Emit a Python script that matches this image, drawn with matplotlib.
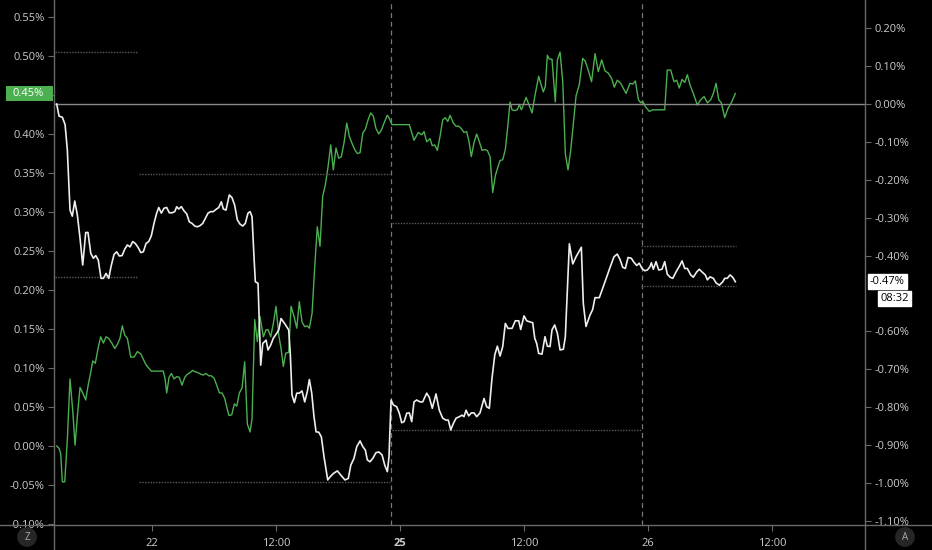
import matplotlib.pyplot as plt
from matplotlib.lines import Line2D
from matplotlib.patches import Rectangle
from matplotlib.transforms import blended_transform_factory, offset_copy

# time axis in hours (0 = the "22" tick), values in percent
white_h = [-9.23, -9.0, -8.68, -8.42, -8.2, -7.94, -7.72, -7.48, -7.23, -6.97, -6.71, -6.42, -6.2, -5.93,
           -5.68, -5.45, -5.2, -4.94, -4.71, -4.45, -4.19, -3.97, -3.68, -3.42, -3.17, -2.9, -2.64, -2.39,
           -2.13, -1.87, -1.62, -1.36, -1.09, -0.84, -0.58, -0.32, -0.07, 0.19, 0.45, 0.65, 0.9, 1.16, 1.42,
           1.67, 1.94, 2.2, 2.39, 2.58, 2.84, 3.1, 3.36, 3.61, 3.87, 4.13, 4.39, 4.65, 4.91, 5.16, 5.42,
           5.68, 5.93, 6.2, 6.46, 6.71, 6.9, 7.16, 7.48, 7.74, 8.0, 8.26, 8.52, 8.78, 9.03, 9.29, 9.49, 9.68,
           9.87, 10.0, 10.26, 10.52, 10.72, 11.04, 11.23, 11.49, 11.74, 12.07, 12.27, 12.49, 12.88, 13.23,
           13.39, 13.55, 13.78, 14.01, 14.26, 14.52, 14.78, 15.03, 15.23, 15.46, 15.68, 15.88, 16.14, 16.39,
           16.65, 17.01, 17.23, 17.55, 17.94, 18.27, 18.68, 19.0, 19.24, 19.55, 19.82, 20.14, 20.4, 20.65,
           20.84, 21.1, 21.37, 21.68, 21.95, 22.27, 22.53, 22.78, 22.94, 23.14, 23.36, 23.69, 23.94, 24.17,
           24.4, 24.66, 24.91, 25.14, 25.36, 25.62, 25.94, 26.2, 26.59, 26.84, 27.13, 27.49, 27.81, 28.14,
           28.46, 28.68, 28.92, 29.17, 29.43, 29.75, 30.01, 30.2, 30.4, 30.66, 30.91, 31.17, 31.43, 31.75,
           32.14, 32.4, 32.65, 32.91, 33.18, 33.43, 33.69, 33.95, 34.2, 34.46, 34.85, 35.17, 35.5, 35.69,
           36.01, 36.27, 36.59, 36.85, 37.05, 37.24, 37.43, 37.75, 38.04, 38.27, 38.53, 38.72, 38.98, 39.24,
           39.5, 39.82, 40.01, 40.4, 40.73, 41.05, 41.56, 41.75, 42.01, 42.4, 42.66, 42.88, 43.3, 43.63,
           44.02, 44.34, 44.72, 45.04, 45.3, 45.57, 45.82, 46.08, 46.4, 46.66, 46.92, 47.17, 47.43, 47.7,
           47.95, 48.21, 48.34, 48.53, 48.79, 49.05, 49.37, 49.63, 49.88, 50.15, 50.41, 50.73, 51.05, 51.31,
           51.57, 51.82, 52.15, 52.4, 52.73, 52.98, 53.24, 53.56, 53.76, 54.02, 54.34, 54.6, 54.92, 55.25,
           55.44, 55.69, 55.95, 56.21, 56.47]
white_pct = [0.0, -0.032, -0.035, -0.054, -0.121, -0.28, -0.296, -0.256, -0.293, -0.354, -0.425, -0.339,
             -0.339, -0.394, -0.407, -0.4, -0.412, -0.46, -0.46, -0.447, -0.46, -0.429, -0.397, -0.39,
             -0.401, -0.4, -0.383, -0.372, -0.377, -0.363, -0.368, -0.378, -0.392, -0.39, -0.368, -0.363,
             -0.348, -0.315, -0.288, -0.273, -0.288, -0.275, -0.273, -0.287, -0.287, -0.284, -0.271,
             -0.277, -0.271, -0.282, -0.29, -0.311, -0.315, -0.322, -0.324, -0.321, -0.315, -0.302,
             -0.288, -0.284, -0.284, -0.278, -0.273, -0.258, -0.277, -0.28, -0.24, -0.247, -0.267,
             -0.306, -0.317, -0.322, -0.315, -0.288, -0.284, -0.297, -0.403, -0.469, -0.473, -0.689,
             -0.632, -0.623, -0.649, -0.636, -0.618, -0.605, -0.596, -0.566, -0.581, -0.596, -0.662,
             -0.768, -0.788, -0.763, -0.763, -0.757, -0.786, -0.759, -0.727, -0.763, -0.825, -0.865,
             -0.866, -0.878, -0.931, -0.992, -0.984, -0.975, -0.968, -0.979, -0.992, -0.988, -0.953,
             -0.935, -0.904, -0.889, -0.904, -0.913, -0.939, -0.944, -0.935, -0.92, -0.918, -0.926,
             -0.953, -0.97, -0.931, -0.781, -0.794, -0.799, -0.816, -0.841, -0.838, -0.816, -0.815,
             -0.838, -0.786, -0.781, -0.786, -0.786, -0.763, -0.774, -0.803, -0.765, -0.808, -0.829,
             -0.834, -0.834, -0.86, -0.843, -0.829, -0.825, -0.821, -0.825, -0.808, -0.823, -0.815,
             -0.815, -0.825, -0.815, -0.777, -0.799, -0.803, -0.724, -0.662, -0.639, -0.665, -0.64,
             -0.579, -0.592, -0.592, -0.572, -0.572, -0.595, -0.559, -0.572, -0.575, -0.577, -0.618,
             -0.632, -0.658, -0.66, -0.614, -0.639, -0.64, -0.596, -0.583, -0.605, -0.649, -0.647,
             -0.614, -0.369, -0.422, -0.403, -0.378, -0.526, -0.587, -0.557, -0.542, -0.511, -0.511,
             -0.486, -0.456, -0.431, -0.403, -0.396, -0.41, -0.431, -0.434, -0.405, -0.407, -0.418,
             -0.426, -0.42, -0.434, -0.44, -0.438, -0.429, -0.419, -0.436, -0.416, -0.438, -0.436,
             -0.416, -0.449, -0.457, -0.46, -0.443, -0.428, -0.414, -0.434, -0.434, -0.451, -0.457,
             -0.443, -0.436, -0.443, -0.451, -0.464, -0.456, -0.46, -0.472, -0.478, -0.469, -0.46,
             -0.46, -0.451, -0.457, -0.469]

green_h = [-9.23, -9.0, -8.84, -8.68, -8.45, -8.2, -7.94, -7.68, -7.45, -7.23, -6.97, -6.71, -6.42, -6.17,
           -5.93, -5.74, -5.49, -5.23, -4.97, -4.71, -4.45, -4.19, -3.9, -3.61, -3.36, -3.1, -2.88, -2.64,
           -2.39, -2.06, -1.74, -1.42, -1.09, -0.84, -0.58, -0.32, -0.07, 1.09, 1.26, 1.42, 1.65, 1.87, 2.13,
           2.39, 2.64, 2.9, 3.17, 3.42, 3.68, 3.94, 4.19, 4.45, 4.71, 4.97, 5.23, 5.49, 5.74, 6.0, 6.26,
           6.52, 6.78, 7.04, 7.23, 7.45, 7.72, 7.97, 8.2, 8.45, 8.71, 8.97, 9.23, 9.49, 9.68, 9.94, 10.19,
           10.45, 10.78, 11.04, 11.23, 11.49, 11.74, 12.0, 12.27, 12.49, 12.71, 12.94, 13.23, 13.46, 13.75,
           14.01, 14.26, 14.52, 14.78, 15.03, 15.23, 15.49, 15.75, 16.0, 16.26, 16.52, 16.78, 17.04, 17.3,
           17.55, 17.81, 18.07, 18.33, 18.59, 18.85, 19.1, 19.36, 19.62, 19.87, 20.14, 20.4, 20.65, 20.91,
           21.17, 21.42, 21.68, 21.95, 22.2, 22.46, 22.78, 22.97, 23.23, 24.91, 25.36, 25.78, 26.11, 26.33,
           26.59, 26.91, 27.13, 27.36, 27.62, 27.88, 28.14, 28.39, 28.63, 28.85, 29.17, 29.43, 29.69, 29.94,
           30.2, 30.46, 30.69, 30.91, 31.17, 31.43, 31.69, 31.95, 32.21, 32.46, 32.72, 32.98, 33.24, 33.49,
           33.69, 33.95, 34.2, 34.4, 34.66, 34.85, 35.11, 35.36, 35.56, 35.75, 35.94, 36.21, 36.47, 36.79,
           37.05, 37.43, 37.69, 37.88, 38.07, 38.27, 38.46, 38.72, 39.04, 39.24, 39.5, 39.76, 40.01, 40.27,
           40.53, 40.79, 41.05, 41.36, 41.69, 41.95, 42.27, 42.55, 42.89, 43.2, 43.53, 43.85, 44.17, 44.5,
           44.75, 45.04, 45.37, 45.89, 46.27, 46.54, 46.79, 47.08, 47.31, 47.5, 47.76, 48.14, 48.47, 49.63,
           49.88, 50.21, 50.53, 50.79, 51.04, 51.31, 51.57, 51.82, 52.08, 52.4, 52.79, 53.12, 53.44, 53.76,
           54.09, 54.34, 54.6, 54.86, 55.11, 55.44, 55.76, 56.08, 56.47]
green_pct = [0.0, -0.003, -0.01, -0.046, -0.046, 0.008, 0.086, 0.046, 0.001, 0.038, 0.075, 0.068, 0.059,
             0.079, 0.095, 0.109, 0.106, 0.125, 0.14, 0.132, 0.14, 0.138, 0.132, 0.125, 0.13, 0.138, 0.154,
             0.142, 0.138, 0.114, 0.114, 0.121, 0.118, 0.111, 0.104, 0.1, 0.096, 0.096, 0.086, 0.068, 0.088,
             0.093, 0.086, 0.089, 0.088, 0.078, 0.088, 0.092, 0.094, 0.097, 0.095, 0.094, 0.092, 0.091,
             0.093, 0.09, 0.09, 0.087, 0.078, 0.068, 0.068, 0.061, 0.05, 0.039, 0.04, 0.054, 0.051, 0.068,
             0.074, 0.108, 0.028, 0.018, 0.035, 0.162, 0.134, 0.166, 0.14, 0.149, 0.149, 0.14, 0.157, 0.179,
             0.142, 0.125, 0.102, 0.119, 0.12, 0.179, 0.166, 0.151, 0.185, 0.159, 0.153, 0.154, 0.151, 0.17,
             0.23, 0.281, 0.256, 0.32, 0.335, 0.358, 0.386, 0.354, 0.382, 0.369, 0.371, 0.389, 0.414, 0.397,
             0.388, 0.38, 0.375, 0.376, 0.401, 0.406, 0.418, 0.427, 0.423, 0.407, 0.4, 0.405, 0.414, 0.424,
             0.42, 0.412, 0.412, 0.392, 0.402, 0.399, 0.403, 0.39, 0.394, 0.385, 0.386, 0.379, 0.397, 0.418,
             0.421, 0.416, 0.424, 0.414, 0.41, 0.41, 0.407, 0.402, 0.403, 0.39, 0.371, 0.389, 0.4, 0.39,
             0.379, 0.38, 0.379, 0.371, 0.325, 0.347, 0.358, 0.366, 0.367, 0.38, 0.405, 0.441, 0.431, 0.43,
             0.431, 0.438, 0.431, 0.437, 0.447, 0.438, 0.427, 0.448, 0.474, 0.462, 0.454, 0.461, 0.501,
             0.496, 0.496, 0.441, 0.495, 0.505, 0.467, 0.375, 0.354, 0.379, 0.414, 0.449, 0.463, 0.497,
             0.493, 0.48, 0.467, 0.503, 0.48, 0.495, 0.481, 0.478, 0.471, 0.46, 0.469, 0.465, 0.452, 0.465,
             0.464, 0.468, 0.444, 0.44, 0.442, 0.435, 0.429, 0.431, 0.431, 0.482, 0.482, 0.467, 0.469,
             0.459, 0.47, 0.466, 0.476, 0.463, 0.452, 0.437, 0.444, 0.448, 0.44, 0.444, 0.452, 0.465, 0.444,
             0.44, 0.421, 0.433, 0.44, 0.452]

# session high / low levels of the white series (right scale)
level_start = [-9.4, -1.26, 23.2, 47.3]
level_end = [-1.36, 23.0, 47.3, 56.5]
level_hi = [0.136, -0.186, -0.314, -0.375]
level_lo = [-0.457, -0.998, -0.860, -0.480]
session_breaks = [23.18, 47.39]

x_ticks = [0, 12, 24, 36, 48, 60]
x_labels = ['22', '12:00', '25', '12:00', '26', '12:00']
left_ticks = [-0.10, -0.05, 0.00, 0.05, 0.10, 0.15, 0.20, 0.25, 0.30, 0.35, 0.40, 0.45, 0.50, 0.55]
right_ticks = [0.20, 0.10, 0.00, -0.10, -0.20, -0.30, -0.40, -0.60, -0.70, -0.80, -0.90, -1.00, -1.10]

W, H = 932, 550
GRID = '#6a6a6a'
TXT = '#cccccc'
GREEN = '#4caf50'
FS = 8

plt.rcParams['font.family'] = ['Open Sans', 'DejaVu Sans']

fig = plt.figure(figsize=(W / 100, H / 100), dpi=100, facecolor='black')
ax = fig.add_axes([54 / W, 25 / H, 811 / W, 525 / H])
ax.set_facecolor('black')
ax2 = ax.twinx()

ax.set_xlim(-9.49, 69.02)
ax.set_ylim(-0.1013, 0.5718)
ax2.set_ylim(-1.1108, 0.2744)

for a in (ax, ax2):
    for s in a.spines.values():
        s.set_visible(False)

for x in session_breaks:
    ax.axvline(x, color='#777777', lw=0.9, ls=(0, (4, 3)), zorder=1)

ax2.axhline(0, color='#8a8a8a', lw=1.0, zorder=1)
for x0, x1, hi, lo in zip(level_start, level_end, level_hi, level_lo):
    ax2.plot([x0, x1], [hi, hi], color='#5a5a5a', lw=1.0, ls=(0, (1, 1)), zorder=1)
    ax2.plot([x0, x1], [lo, lo], color='#5a5a5a', lw=1.0, ls=(0, (1, 1)), zorder=1)

ax.plot(green_h, green_pct, color=GREEN, lw=1.0, zorder=3)
ax2.plot(white_h, white_pct, color='#eeeeee', lw=1.2, zorder=3)

ax.set_xticks(x_ticks)
ax.set_xticklabels(x_labels)
ax.get_xticklabels()[2].set_fontweight('bold')
ax.set_yticks(left_ticks)
# the 0.45% tick label is replaced by the highlighted last-value box
ax.set_yticklabels(['' if abs(v - 0.45) < 1e-9 else '%.2f%%' % v for v in left_ticks])
ax2.set_yticks(right_ticks)
ax2.set_yticklabels(['%.2f%%' % v for v in right_ticks])

ax.tick_params(axis='x', colors=GRID, labelcolor=TXT, length=4, pad=5, labelsize=FS)
ax.tick_params(axis='y', colors=GRID, labelcolor=TXT, length=4, pad=3, labelsize=FS)
ax2.tick_params(axis='y', colors=GRID, labelcolor=TXT, length=4, pad=3, labelsize=FS)

# panel separators
fig.add_artist(Line2D([54 / W, 54 / W], [0, 1], color=GRID, lw=1.0))
fig.add_artist(Line2D([865 / W, 865 / W], [0, 1], color=GRID, lw=1.0))
fig.add_artist(Line2D([0, 1], [25 / H, 25 / H], color=GRID, lw=1.0))

# last value label of the green series (left scale)
tr_left = blended_transform_factory(fig.transFigure, ax.transData)
last_g = green_pct[-1]
box_h = 15 / 525 * (0.5718 + 0.1013)
ax.add_patch(Rectangle((6 / W, last_g - box_h / 2), 47 / W, box_h, transform=tr_left,
                       facecolor=GREEN, edgecolor='none', clip_on=False, zorder=5))
ax.text(44 / W, last_g, '%.2f%%' % last_g, transform=tr_left, ha='right', va='center',
        fontsize=FS, color='white', zorder=6, clip_on=False)

# last value label of the white series (right scale) and countdown
ax2.annotate('%.2f%%' % white_pct[-1], xy=(1, white_pct[-1]), xycoords=('axes fraction', 'data'),
             xytext=(3.5, 0), textcoords='offset points', ha='left', va='center',
             fontsize=FS, color='black',
             bbox=dict(boxstyle='square,pad=0.2', fc='white', ec='white'))
ax2.annotate('08:32', xy=(1, white_pct[-1]), xycoords=('axes fraction', 'data'),
             xytext=(11, -12), textcoords='offset points', ha='left', va='center',
             fontsize=FS, color='black',
             bbox=dict(boxstyle='square,pad=0.2', fc='white', ec='white'))

fig.text(27 / W, 13 / H, 'Z', ha='center', va='center', fontsize=7, color='#aaaaaa',
         bbox=dict(boxstyle='circle,pad=0.45', fc='#262626', ec='none'))
fig.text(905 / W, 13 / H, 'A', ha='center', va='center', fontsize=7, color='#aaaaaa',
         bbox=dict(boxstyle='circle,pad=0.45', fc='#262626', ec='none'))

fig.savefig('out.png', dpi=100, facecolor='black')
